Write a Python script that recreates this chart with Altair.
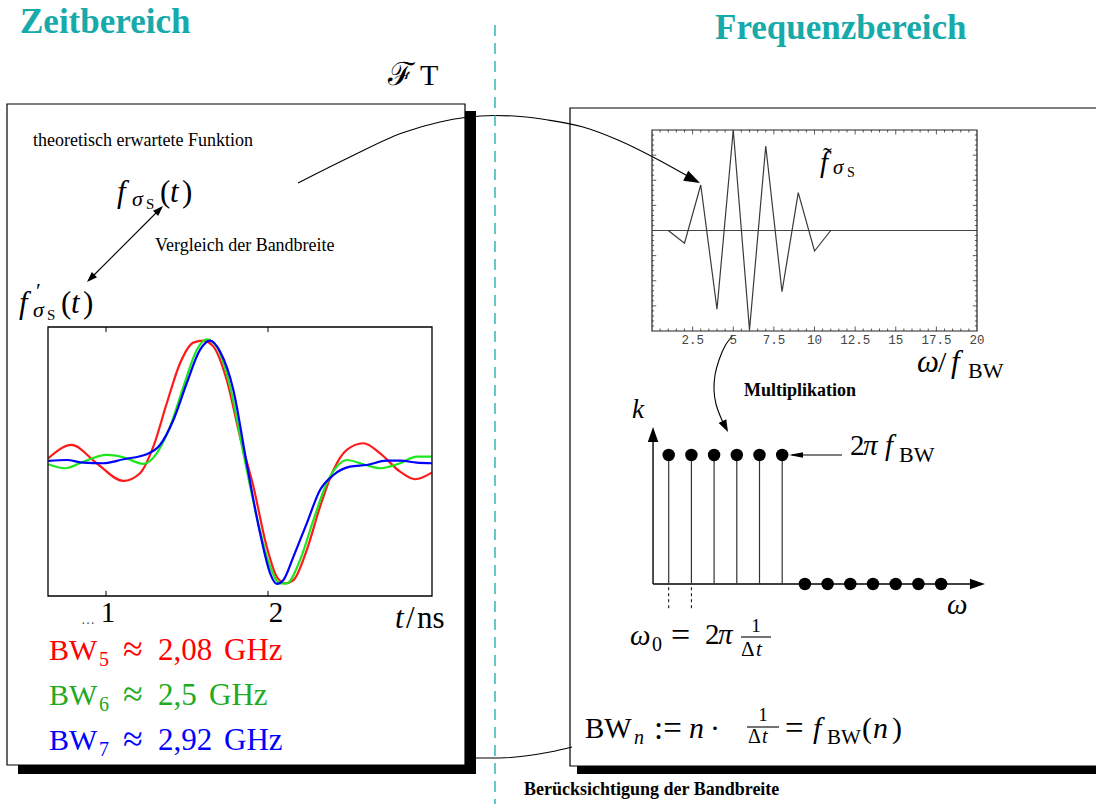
import altair as alt
import pandas as pd

W, H = 1096, 804
SERIF = "Liberation Serif"
TEAL = "#17aaaa"
K = "black"
RED_T, GRN_T, BLU_T = "#ff0000", "#22aa22", "#0000ff"
RED_L, GRN_L, BLU_L = "#ff1a1a", "#1ee61e", "#0000ff"

# ---------------- data ----------------
# Time-domain responses for three band limits (t in ns, amplitude normalised to the pulse peak)
t_bw5 = [0.644, 0.788, 0.942, 1.107, 1.210, 1.292, 1.375, 1.457, 1.539, 1.601, 1.663, 1.745, 1.827, 1.910,
         1.992, 2.054, 2.105, 2.157, 2.239, 2.321, 2.404, 2.486, 2.589, 2.692, 2.815, 2.908, 3.011]
v_bw5 = [0.041, 0.150, 0.000, -0.145, -0.082, 0.136, 0.492, 0.820, 0.989, 1.005, 0.956, 0.683, 0.218, -0.192,
         -0.684, -0.930, -0.984, -0.957, -0.711, -0.356, -0.055, 0.109, 0.164, 0.082, -0.069, -0.131, -0.077]
t_bw6 = [0.644, 0.747, 0.860, 1.004, 1.107, 1.231, 1.313, 1.395, 1.478, 1.560, 1.622, 1.683, 1.766, 1.848,
         1.930, 2.013, 2.074, 2.115, 2.198, 2.280, 2.362, 2.424, 2.486, 2.589, 2.692, 2.815, 2.918, 3.011]
v_bw6 = [-0.008, -0.041, 0.013, 0.068, 0.049, -0.005, 0.082, 0.300, 0.628, 0.929, 1.016, 0.956, 0.628, 0.082,
         -0.438, -0.848, -0.984, -0.984, -0.793, -0.465, -0.164, -0.028, 0.027, -0.008, -0.041, 0.000, 0.054, 0.054]
t_bw7 = [0.644, 0.757, 0.860, 0.984, 1.107, 1.251, 1.333, 1.416, 1.498, 1.580, 1.642, 1.704, 1.786, 1.868,
         1.951, 2.013, 2.054, 2.095, 2.157, 2.239, 2.321, 2.404, 2.506, 2.609, 2.733, 2.815, 2.918, 3.011]
v_bw7 = [0.019, 0.027, 0.005, 0.000, 0.033, 0.074, 0.150, 0.355, 0.656, 0.929, 1.005, 0.915, 0.601, 0.000,
         -0.574, -0.902, -0.989, -0.957, -0.765, -0.492, -0.219, -0.096, -0.028, -0.014, 0.021, 0.021, 0.005, 0.000]
t_ticks = [1, 2]

# Sampled spectrum over omega / f_BW
w_spec = [1, 2, 3, 4, 5, 6, 7, 8, 9, 10, 11]
a_spec = [0.0, -0.127, 0.453, -0.784, 1.0, -0.99, 0.841, -0.609, 0.376, -0.204, 0.0]
spec_tick_vals = [2.5, 5, 7.5, 10, 12.5, 15, 17.5, 20]
spec_tick_labels = ["2.5", "5", "7.5", "10", "12.5", "15", "17.5", "20"]

# Band-limiting window k(omega): ones up to n = 6, zeros beyond
n_pass = [1, 2, 3, 4, 5, 6]
n_stop = [7, 8, 9, 10, 11, 12, 13]
k_pass, k_stop = 1.0, 0.0

# ---------------- scales ----------------
def sc(domain, rng):
    return alt.Scale(domain=domain, range=rng, nice=False, zero=False)

CX, CY = sc([0, W], [0, W]), sc([0, H], [0, H])                 # page layout
TX, TY = sc([0.642, 3.012], [48, 432]), sc([-1.088, 1.117], [596, 327])  # time plot
FX, FY = sc([0, 20], [652, 977]), sc([-1, 1], [331, 130])          # spectrum
SX, SY = sc([0, 15], [646, 986.5]), sc([0, 1], [584, 455])         # window

def X(f, s): return alt.X(f"{f}:Q", scale=s, axis=None)
def Y(f, s): return alt.Y(f"{f}:Q", scale=s, axis=None)

ARROW = "M0,0L-2,-0.7L-2,0.7Z"
ARROW_THIN = "M0,0L-2,-0.38L-2,0.38Z"

layers = []

# ---------------- frames ----------------
boxes = pd.DataFrame({"x": [7, 570], "x2": [465, 1100], "y": [104, 108], "y2": [765, 766]})
layers.append(alt.Chart(boxes).mark_rect(fill="white", stroke=K, strokeWidth=1.2).encode(
    x=X("x", CX), x2="x2:Q", y=Y("y", CY), y2="y2:Q"))
shadows = pd.DataFrame({"x": [465, 18, 577], "x2": [476, 476, 1100], "y": [111, 765, 766], "y2": [774, 774, 774]})
layers.append(alt.Chart(shadows).mark_rect(fill=K).encode(
    x=X("x", CX), x2="x2:Q", y=Y("y", CY), y2="y2:Q"))

# ---------------- connecting arcs ----------------
arc_top = pd.DataFrame({"x": [298, 350, 402, 440, 465, 495, 520, 548, 583, 618, 653, 684, 698],
                        "y": [183, 157, 133, 122, 117.5, 115.5, 116.5, 120, 127, 140, 157, 174, 182]})
arc_bot = pd.DataFrame({"x": [476, 500, 525, 550, 572], "y": [758, 758, 756, 752, 747]})
for df in (arc_top, arc_bot):
    layers.append(alt.Chart(df).mark_line(interpolate="monotone", color=K, strokeWidth=1.1).encode(
        x=X("x", CX), y=Y("y", CY)))
arc_mul = pd.DataFrame({"x": [733, 725, 719, 715, 714, 716, 721, 726],
                        "y": [335, 346, 360, 375, 390, 404, 418, 428], "o": list(range(8))})
layers.append(alt.Chart(arc_mul).mark_line(interpolate="cardinal", color=K, strokeWidth=1.1).encode(
    x=X("x", CX), y=Y("y", CY), order="o:Q"))

segs = pd.DataFrame({"x": [89, 842, 741, 747], "y": [280, 455, 637, 727],
                     "x2": [161, 792, 771, 779], "y2": [208, 455, 637, 727]})
layers.append(alt.Chart(segs).mark_rule(color=K, strokeWidth=1.1).encode(
    x=X("x", CX), y=Y("y", CY), x2="x2:Q", y2="y2:Q"))

divider = pd.DataFrame({"x": [495], "y": [25], "y2": [804]})
layers.append(alt.Chart(divider).mark_rule(color=TEAL, strokeWidth=1.3, strokeDash=[11, 7]).encode(
    x=X("x", CX), y=Y("y", CY), y2="y2:Q"))

heads = pd.DataFrame({"x": [700, 163, 87, 728], "y": [183, 206, 282, 432],
                      "a": [27, 315, 135, 63], "s": [256, 110, 110, 150]})
layers.append(alt.Chart(heads).mark_point(shape=ARROW, filled=True, color=K, opacity=1, strokeWidth=0).encode(
    x=X("x", CX), y=Y("y", CY), angle=alt.Angle("a:Q", scale=None), size=alt.Size("s:Q", scale=None)))
heads_thin = pd.DataFrame({"x": [789], "y": [455], "a": [180], "s": [196]})
layers.append(alt.Chart(heads_thin).mark_point(shape=ARROW_THIN, filled=True, color=K, opacity=1, strokeWidth=0).encode(
    x=X("x", CX), y=Y("y", CY), angle=alt.Angle("a:Q", scale=None), size=alt.Size("s:Q", scale=None)))

# ---------------- time-domain plot ----------------
for t, v, c in ((t_bw5, v_bw5, RED_L), (t_bw6, v_bw6, GRN_L), (t_bw7, v_bw7, BLU_L)):
    layers.append(alt.Chart(pd.DataFrame({"t": t, "v": v})).mark_line(
        interpolate="monotone", color=c, strokeWidth=2.2).encode(x=X("t", TX), y=Y("v", TY)))
tframe = pd.DataFrame({"x": [0.642], "x2": [3.012], "y": [-1.088], "y2": [1.117]})
layers.append(alt.Chart(tframe).mark_rect(fillOpacity=0, stroke=K, strokeWidth=1.3).encode(
    x=X("x", TX), x2="x2:Q", y=Y("y", TY), y2="y2:Q"))
tt = pd.DataFrame({"x": t_ticks * 2, "y": [1.117] * 2 + [-1.088] * 2, "y2": [1.075] * 2 + [-1.046] * 2})
layers.append(alt.Chart(tt).mark_rule(color=K, strokeWidth=1).encode(
    x=X("x", TX), y=Y("y", TY), y2="y2:Q"))

# ---------------- spectrum plot ----------------
minor_x = [i * 0.5 for i in range(1, 40) if i % 5]
major_x = [i * 2.5 for i in range(1, 8)]
minor_y = [round(-1 + i * 0.05, 2) for i in range(1, 40) if i % 5]
major_y = [round(-1 + i * 0.25, 2) for i in range(1, 8)]
trows = []
for v in minor_x:
    trows += [(v, -1, v, -0.975), (v, 1, v, 0.975)]
for v in major_x:
    trows += [(v, -1, v, -0.955), (v, 1, v, 0.955)]
for v in minor_y:
    trows += [(0, v, 0.13, v), (20, v, 19.87, v)]
for v in major_y:
    trows += [(0, v, 0.26, v), (20, v, 19.74, v)]
fticks = pd.DataFrame(trows, columns=["x", "y", "x2", "y2"])
layers.append(alt.Chart(fticks).mark_rule(color="#333", strokeWidth=0.8).encode(
    x=X("x", FX), y=Y("y", FY), x2="x2:Q", y2="y2:Q"))
fzero = pd.DataFrame({"x": [0], "x2": [20], "y": [0]})
layers.append(alt.Chart(fzero).mark_rule(color="#444", strokeWidth=1.2).encode(
    x=X("x", FX), x2="x2:Q", y=Y("y", FY)))
layers.append(alt.Chart(pd.DataFrame({"w": w_spec, "a": a_spec})).mark_line(color="#3a3a3a", strokeWidth=1.2).encode(
    x=X("w", FX), y=Y("a", FY)))
fframe = pd.DataFrame({"x": [0], "x2": [20], "y": [-1], "y2": [1]})
layers.append(alt.Chart(fframe).mark_rect(fillOpacity=0, stroke="#222", strokeWidth=1.2).encode(
    x=X("x", FX), x2="x2:Q", y=Y("y", FY), y2="y2:Q"))
flabels = pd.DataFrame({"x": spec_tick_vals, "y": [-1] * 8, "t": spec_tick_labels})
layers.append(alt.Chart(flabels).mark_text(font="Liberation Mono", fontSize=12.5, color="#444",
                                           baseline="top", dy=3).encode(
    x=X("x", FX), y=Y("y", FY), text="t:N"))

# ---------------- window k(omega) ----------------
axes_k = pd.DataFrame({"x": [0.31, 0.31], "y": [0, 0], "x2": [0.31, 14.4], "y2": [1.12, 0]})
layers.append(alt.Chart(axes_k).mark_rule(color=K, strokeWidth=1.4).encode(
    x=X("x", SX), y=Y("y", SY), x2="x2:Q", y2="y2:Q"))
axheads = pd.DataFrame({"x": [0.31, 14.93], "y": [1.217, 0], "a": [270, 0], "s": [225, 225]})
layers.append(alt.Chart(axheads).mark_point(shape=ARROW, filled=True, color=K, opacity=1, strokeWidth=0).encode(
    x=X("x", SX), y=Y("y", SY), angle=alt.Angle("a:Q", scale=None), size=alt.Size("s:Q", scale=None)))
stems = pd.DataFrame({"n": n_pass, "k": [k_pass] * 6, "k0": [0] * 6})
layers.append(alt.Chart(stems).mark_rule(color="#333", strokeWidth=1.2).encode(
    x=X("n", SX), y=Y("k0", SY), y2="k:Q"))
dots = pd.DataFrame({"n": n_pass + n_stop, "k": [k_pass] * 6 + [k_stop] * 7})
layers.append(alt.Chart(dots).mark_circle(size=155, color=K, opacity=1).encode(
    x=X("n", SX), y=Y("k", SY)))
dash = pd.DataFrame({"n": [1, 2], "y": [-0.025, -0.025], "y2": [-0.205, -0.205]})
layers.append(alt.Chart(dash).mark_rule(color=K, strokeWidth=1, strokeDash=[3, 3]).encode(
    x=X("n", SX), y=Y("y", SY), y2="y2:Q"))

# ---------------- text ----------------
def texts(rows, style="normal", weight="normal", align="left", font=SERIF):
    df = pd.DataFrame(rows, columns=["text", "x", "y", "size", "color"])
    return alt.Chart(df).mark_text(font=font, fontStyle=style, fontWeight=weight, align=align,
                                   baseline="alphabetic").encode(
        x=X("x", CX), y=Y("y", CY), text="text:N",
        size=alt.Size("size:Q", scale=None), color=alt.Color("color:N", scale=None))

layers.append(texts([
    ("Zeitbereich", 20, 33, 35, TEAL), ("Frequenzbereich", 715, 39, 35, TEAL),
    ("Multiplikation", 744, 396, 18, K), ("Berücksichtigung der Bandbreite", 524, 795, 18, K),
], weight="bold"))

layers.append(texts([
    ("ℱ", 388, 85, 32, K), ("T", 420, 85, 30, K),
    ("theoretisch erwartete Funktion", 33, 146, 18, K),
    ("Vergleich der Bandbreite", 155, 251, 18, K),
    ("S", 146, 209, 15, K), ("(", 160, 202, 31, K), (")", 182, 202, 31, K),
    ("′", 36, 298, 22, K), ("S", 47, 320, 15, K), ("(", 61, 313, 31, K), (")", 83, 313, 31, K),
    ("/", 406, 628, 31, K), ("ns", 417, 628, 31, K),
    ("BW", 49, 660, 30, RED_T), ("5", 99, 666, 20, RED_T), ("≈", 123, 661, 36, RED_T),
    ("2,08", 158, 660, 31, RED_T), ("GHz", 224, 660, 31, RED_T),
    ("BW", 49, 705, 30, GRN_T), ("6", 99, 711, 20, GRN_T), ("≈", 123, 706, 36, GRN_T),
    ("2,5", 158, 705, 31, GRN_T), ("GHz", 209, 705, 31, GRN_T),
    ("BW", 49, 750, 30, BLU_T), ("7", 99, 756, 20, BLU_T), ("≈", 123, 751, 36, BLU_T),
    ("2,92", 158, 750, 31, BLU_T), ("GHz", 224, 750, 31, BLU_T),
    ("˜", 823, 165, 26, K), ("S", 847, 177, 14, K),
    ("/", 938, 372, 30, K), ("BW", 968, 378, 22, K),
    ("2", 850, 455, 29, K), ("BW", 899, 462, 22, K),
    ("0", 652, 651, 20, K), ("=", 671, 646, 34, K), ("2", 705, 644, 29, K), ("Δ", 741, 656, 21, K),
    ("BW", 585, 738, 29, K), (":=", 654, 739, 33, K), ("·", 710, 738, 30, K), ("=", 785, 739, 33, K),
    ("BW", 827, 744, 21, K), ("(", 862, 738, 30, K), (")", 892, 738, 30, K), ("Δ", 748, 743, 20, K),
]))

layers.append(texts([
    ("f", 117, 202, 31, K), ("σ", 132, 206, 22, K), ("t", 170, 202, 31, K),
    ("f", 19, 313, 31, K), ("σ", 33, 317, 22, K), ("t", 71, 313, 31, K),
    ("t", 395, 628, 31, K),
    ("f", 820, 172, 29, K), ("σ", 833, 174, 21, K),
    ("ω", 917, 372, 31, K), ("f", 951, 372, 31, K),
    ("k", 632, 418, 27, K),
    ("π", 863, 455, 29, K), ("f", 885, 455, 29, K),
    ("ω", 947, 614, 29, K),
    ("ω", 630, 645, 29, K), ("π", 718, 644, 29, K), ("t", 756, 656, 21, K),
    ("n", 634, 744, 20, K), ("n", 689, 738, 30, K), ("t", 762, 743, 20, K),
    ("f", 813, 738, 30, K), ("n", 873, 738, 30, K),
], style="italic"))

layers.append(texts([
    ("1", 108, 622, 29, K), ("2", 276, 622, 29, K), ("…", 88, 624, 14, "#555"),
    ("1", 756, 632, 19, K), ("1", 763, 721, 19, K),
], align="center"))

chart = alt.layer(*layers).resolve_scale(x="independent", y="independent").properties(
    width=W, height=H, autosize=alt.AutoSizeParams(type="none"), padding=0, background="white"
).configure_view(stroke=None)

chart.save("out.html", embed_options={"renderer": "svg", "actions": False})
